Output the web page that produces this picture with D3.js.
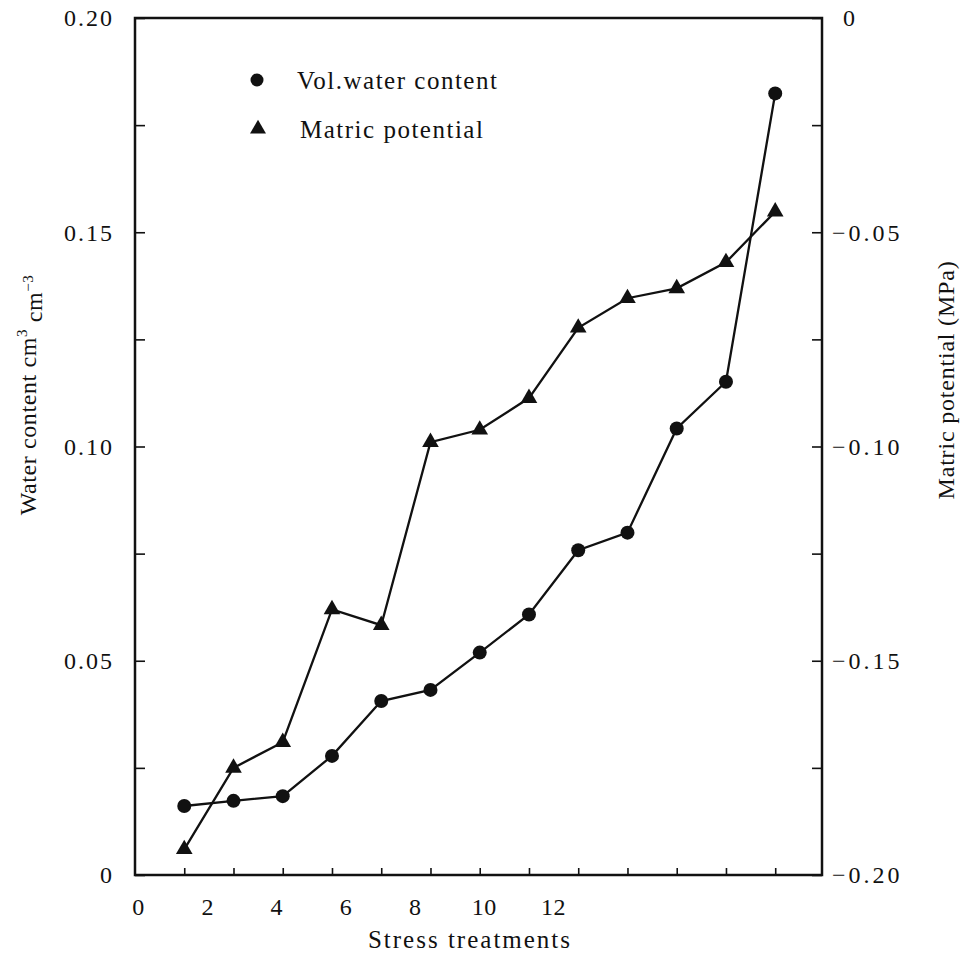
<!DOCTYPE html>
<html>
<head>
<meta charset="utf-8">
<script src="https://cdn.jsdelivr.net/npm/d3@7"></script>
<style>
  html, body { margin: 0; padding: 0; background: #fff; }
  svg text { font-family: "Liberation Serif", "Times New Roman", "DejaVu Serif", serif !important; }
</style>
</head>
<body>
<svg id="chart" width="966" height="953"></svg>
<script>
// Stress treatments 1..13
const treatments = [1, 2, 3, 4, 5, 6, 7, 8, 9, 10, 11, 12, 13];
// Volumetric water content, cm3 cm-3 (left axis)
const waterContent = [0.0161, 0.0173, 0.0184, 0.0278, 0.0406, 0.0432, 0.0519, 0.0608, 0.0758, 0.0799, 0.1042, 0.1151, 0.1824];
// Matric potential, MPa (right axis)
const matricPotential = [-0.194, -0.175, -0.169, -0.138, -0.1417, -0.099, -0.0961, -0.0887, -0.0723, -0.0654, -0.0631, -0.057, -0.0452];

const leftTicks = [0, 0.05, 0.10, 0.15, 0.20];
const rightTicks = [0, -0.05, -0.10, -0.15, -0.20];
const xLabelValues = [0, 2, 4, 6, 8, 10, 12];

const FONT = "'Liberation Serif', 'Times New Roman', 'DejaVu Serif', serif";
const svg = d3.select("#chart").attr("font-family", FONT);
const plot = { left: 135, right: 822, top: 18, bottom: 875 };

const x = d3.scaleLinear().domain([0, 13.95]).range([plot.left, plot.right]);
// labels of the treatment axis sit on their own spacing
const xLabel = d3.scaleLinear().domain([0, 12]).range([138, 553]);
const yLeft = d3.scaleLinear().domain([0, 0.20]).range([plot.bottom, plot.top]);
const yRight = d3.scaleLinear().domain([-0.20, 0]).range([plot.bottom, plot.top]);

const ink = "#111";
const fmtLeft = d => d === 0 ? "0" : d3.format(".2f")(d);
const fmtRight = d => d === 0 ? "0" : "\u2212" + d3.format(".2f")(-d);

// frame
svg.append("rect")
  .attr("x", plot.left).attr("y", plot.top)
  .attr("width", plot.right - plot.left).attr("height", plot.bottom - plot.top)
  .attr("fill", "none").attr("stroke", ink).attr("stroke-width", 2.5);

// left axis: inward ticks every 0.025
const gl = svg.append("g").attr("transform", `translate(${plot.left},0)`)
  .call(d3.axisRight(yLeft).tickValues(d3.range(0, 0.2001, 0.025)).tickSize(10).tickFormat(""));
gl.select(".domain").remove();
gl.selectAll(".tick line").attr("stroke", ink).attr("stroke-width", 1.6);

svg.append("g").selectAll("text").data(leftTicks).join("text")
  .attr("x", 114).attr("y", d => yLeft(d)).attr("dy", "0.35em")
  .attr("text-anchor", "end").attr("font-size", 24).attr("letter-spacing", 2)
  .attr("font-family", FONT).attr("fill", ink).text(fmtLeft);

// right axis: inward ticks every 0.025
const gr = svg.append("g").attr("transform", `translate(${plot.right},0)`)
  .call(d3.axisLeft(yRight).tickValues(d3.range(-0.2, 0.0001, 0.025)).tickSize(10).tickFormat(""));
gr.select(".domain").remove();
gr.selectAll(".tick line").attr("stroke", ink).attr("stroke-width", 1.6);

svg.append("g").selectAll("text").data(rightTicks).join("text")
  .attr("x", d => d === 0 ? 843 : 832).attr("y", d => yRight(d)).attr("dy", "0.35em")
  .attr("text-anchor", "start").attr("font-size", 24).attr("letter-spacing", 3)
  .attr("font-family", FONT).attr("fill", ink).text(fmtRight);

// bottom axis: inward ticks at each treatment
const gb = svg.append("g").attr("transform", `translate(0,${plot.bottom})`)
  .call(d3.axisTop(x).tickValues(treatments).tickSize(7).tickFormat(""));
gb.select(".domain").remove();
gb.selectAll(".tick line").attr("stroke", ink).attr("stroke-width", 1.6);

const gbl = svg.append("g").attr("transform", `translate(0,${plot.bottom + 32})`)
  .call(d3.axisBottom(xLabel).tickValues(xLabelValues).tickSize(0).tickPadding(0).tickFormat(d3.format("d")));
gbl.attr("font-family", FONT);
gbl.select(".domain").remove();
gbl.selectAll(".tick text").attr("font-size", 24).attr("fill", ink).attr("font-family", FONT)
  .attr("letter-spacing", 0.5).attr("dy", "0.35em").attr("y", 0);

// axis titles
svg.append("text")
  .attr("x", 470).attr("y", 948)
  .attr("text-anchor", "middle").attr("font-size", 25).attr("letter-spacing", 2)
  .attr("font-family", FONT).attr("fill", ink).text("Stress treatments");

const lt = svg.append("text")
  .attr("transform", "translate(28,395) rotate(-90)")
  .attr("text-anchor", "middle").attr("dy", "0.35em")
  .attr("font-size", 24).attr("letter-spacing", 0.6).attr("font-family", FONT).attr("fill", ink);
lt.append("tspan").text("Water content cm");
lt.append("tspan").attr("font-size", 15).attr("dy", "-0.6em").text("3");
lt.append("tspan").attr("dy", "0.6em").text(" cm");
lt.append("tspan").attr("font-size", 15).attr("dy", "-0.6em").text("\u22123");

svg.append("text")
  .attr("transform", "translate(946,380) rotate(-90)")
  .attr("text-anchor", "middle").attr("dy", "0.35em")
  .attr("font-size", 24).attr("letter-spacing", 0.8).attr("font-family", FONT).attr("fill", ink)
  .text("Matric potential (MPa)");

// series
const lineWater = d3.line().x((d, i) => x(treatments[i])).y(d => yLeft(d));
const lineMatric = d3.line().x((d, i) => x(treatments[i])).y(d => yRight(d));

svg.append("path").datum(waterContent)
  .attr("d", lineWater).attr("fill", "none").attr("stroke", ink).attr("stroke-width", 2.3);
svg.append("path").datum(matricPotential)
  .attr("d", lineMatric).attr("fill", "none").attr("stroke", ink).attr("stroke-width", 2.3);

svg.append("g").selectAll("circle").data(waterContent).join("circle")
  .attr("cx", (d, i) => x(treatments[i])).attr("cy", d => yLeft(d))
  .attr("r", 7).attr("fill", ink);

const tri = d3.symbol().type(d3.symbolTriangle).size(120);
svg.append("g").selectAll("path").data(matricPotential).join("path")
  .attr("d", tri)
  .attr("transform", (d, i) => `translate(${x(treatments[i])},${yRight(d)})`)
  .attr("fill", ink);

// legend
const legend = svg.append("g");
legend.append("circle").attr("cx", 257).attr("cy", 80).attr("r", 6.5).attr("fill", ink);
legend.append("text").attr("x", 297).attr("y", 80).attr("dy", "0.35em")
  .attr("font-size", 25).attr("letter-spacing", 1.5).attr("font-family", FONT).attr("fill", ink).text("Vol.water content");
legend.append("path").attr("d", d3.symbol().type(d3.symbolTriangle).size(110))
  .attr("transform", "translate(258,129)").attr("fill", ink);
legend.append("text").attr("x", 300).attr("y", 129).attr("dy", "0.35em")
  .attr("font-size", 25).attr("letter-spacing", 1.5).attr("font-family", FONT).attr("fill", ink).text("Matric potential");
</script>
</body>
</html>
